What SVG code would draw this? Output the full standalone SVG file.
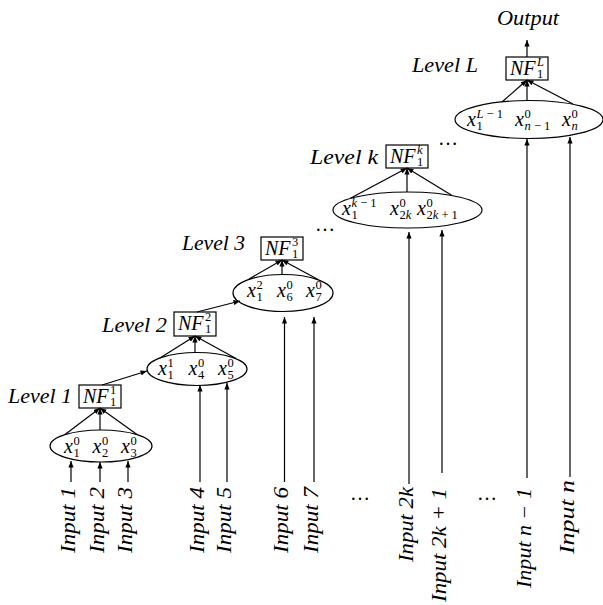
<svg xmlns="http://www.w3.org/2000/svg" width="603" height="605" viewBox="0 0 603 605">
<defs>
<marker id="ah" viewBox="0 0 10 8" refX="10" refY="4" markerWidth="6.5" markerHeight="5.2" markerUnits="userSpaceOnUse" orient="auto"><path d="M0,0 L10,4 L0,8 z" fill="#000"/></marker>
<style>
text{font-family:"Liberation Serif","Times New Roman",serif;fill:#000}
.t{font-style:italic;font-size:20px}
.s{font-style:normal;font-size:12.5px}
.si{font-style:italic;font-size:12.5px}
.d{font-style:normal;font-size:20px}
.bx{fill:#fff;stroke:#000;stroke-width:1.2}
.el{fill:none;stroke:#000;stroke-width:1.2}
.cn line{stroke:#000;stroke-width:1.2;marker-end:url(#ah)}
</style>
</defs>
<rect width="603" height="605" fill="#fff"/>

<g id="label-level1"><text class="t" x="8" y="403" textLength="64" lengthAdjust="spacingAndGlyphs">Level 1</text></g>
<g id="label-level2"><text class="t" x="102" y="332" textLength="65" lengthAdjust="spacingAndGlyphs">Level 2</text></g>
<g id="label-level3"><text class="t" x="182" y="250" textLength="63" lengthAdjust="spacingAndGlyphs">Level 3</text></g>
<g id="label-levelk"><text class="t" x="310" y="164" textLength="68" lengthAdjust="spacingAndGlyphs">Level k</text></g>
<g id="label-levelL"><text class="t" x="412" y="72" textLength="66" lengthAdjust="spacingAndGlyphs">Level L</text></g>
<g id="output"><text class="t" x="497" y="25" textLength="62" lengthAdjust="spacingAndGlyphs">Output</text></g>

<g id="nf1"><rect class="bx" x="79" y="385" width="42" height="23"/><text class="t" x="83" y="403">NF<tspan class="s" x="110" y="394">1</tspan><tspan class="s" x="110" y="406">1</tspan></text></g>
<g id="nf2"><rect class="bx" x="174" y="312" width="42" height="24"/><text class="t" x="178" y="330">NF<tspan class="s" x="205" y="321">2</tspan><tspan class="s" x="205" y="333">1</tspan></text></g>
<g id="nf3"><rect class="bx" x="261" y="237" width="42" height="23"/><text class="t" x="265" y="255">NF<tspan class="s" x="292" y="246">3</tspan><tspan class="s" x="292" y="258">1</tspan></text></g>
<g id="nfk"><rect class="bx" x="386" y="145" width="42" height="23"/><text class="t" x="390" y="163">NF<tspan class="si" x="417" y="154">k</tspan><tspan class="s" x="417" y="166">1</tspan></text></g>
<g id="nfL"><rect class="bx" x="506" y="57" width="42" height="23"/><text class="t" x="510" y="75">NF<tspan class="si" x="537" y="66">L</tspan><tspan class="s" x="537" y="78">1</tspan></text></g>

<g id="e1"><ellipse class="el" cx="101" cy="446" rx="51" ry="16"/>
<text class="t" x="64" y="453">x<tspan class="s" x="73.5" y="445">0</tspan><tspan class="s" x="73.5" y="456.5">1</tspan></text>
<text class="t" x="92.5" y="453">x<tspan class="s" x="102" y="445">0</tspan><tspan class="s" x="102" y="456.5">2</tspan></text>
<text class="t" x="121" y="453">x<tspan class="s" x="130.5" y="445">0</tspan><tspan class="s" x="130.5" y="456.5">3</tspan></text></g>
<g id="e2"><ellipse class="el" cx="197" cy="369" rx="50" ry="16.5"/>
<text class="t" x="158" y="375">x<tspan class="s" x="167.5" y="367">1</tspan><tspan class="s" x="167.5" y="378.5">1</tspan></text>
<text class="t" x="188.5" y="375">x<tspan class="s" x="198" y="367">0</tspan><tspan class="s" x="198" y="378.5">4</tspan></text>
<text class="t" x="218" y="375">x<tspan class="s" x="227.5" y="367">0</tspan><tspan class="s" x="227.5" y="378.5">5</tspan></text></g>
<g id="e3"><ellipse class="el" cx="283" cy="293" rx="50" ry="18.5"/>
<text class="t" x="247" y="297">x<tspan class="s" x="256.5" y="289">2</tspan><tspan class="s" x="256.5" y="300.5">1</tspan></text>
<text class="t" x="277" y="297">x<tspan class="s" x="286.5" y="289">0</tspan><tspan class="s" x="286.5" y="300.5">6</tspan></text>
<text class="t" x="306" y="297">x<tspan class="s" x="315.5" y="289">0</tspan><tspan class="s" x="315.5" y="300.5">7</tspan></text></g>
<g id="ek"><ellipse class="el" cx="407.5" cy="210" rx="74.5" ry="18"/>
<text class="t" x="342" y="215">x<tspan class="si" x="351.5" y="207">k</tspan><tspan class="s"> − 1</tspan><tspan class="s" x="351.5" y="218.5">1</tspan></text>
<text class="t" x="390" y="215">x<tspan class="s" x="399.5" y="207">0</tspan><tspan class="s" x="399.5" y="218.5">2</tspan><tspan class="si">k</tspan></text>
<text class="t" x="417" y="215">x<tspan class="s" x="426.5" y="207">0</tspan><tspan class="s" x="426.5" y="218.5">2</tspan><tspan class="si">k</tspan><tspan class="s"> + 1</tspan></text></g>
<g id="eL"><ellipse class="el" cx="529" cy="119.5" rx="74" ry="19"/>
<text class="t" x="467" y="126">x<tspan class="si" x="476.5" y="118">L</tspan><tspan class="s"> − 1</tspan><tspan class="s" x="476.5" y="129.5">1</tspan></text>
<text class="t" x="515" y="126">x<tspan class="s" x="524.5" y="118">0</tspan><tspan class="si" x="524.5" y="129.5">n</tspan><tspan class="s"> − 1</tspan></text>
<text class="t" x="562" y="126">x<tspan class="s" x="571.5" y="118">0</tspan><tspan class="si" x="571.5" y="129.5">n</tspan></text></g>

<g id="dots">
<text class="d" x="325" y="230.5" text-anchor="middle">…</text>
<text class="d" x="448" y="144.5" text-anchor="middle">…</text>
<text class="d" x="360" y="499.5" text-anchor="middle">…</text>
<text class="d" x="487" y="499.5" text-anchor="middle">…</text>
</g>

<g id="in1"><text class="t" transform="translate(74.5,487) rotate(-90)" text-anchor="end" textLength="66" lengthAdjust="spacingAndGlyphs">Input 1</text></g>
<g id="in2"><text class="t" transform="translate(103.5,487) rotate(-90)" text-anchor="end" textLength="66" lengthAdjust="spacingAndGlyphs">Input 2</text></g>
<g id="in3"><text class="t" transform="translate(131.5,487) rotate(-90)" text-anchor="end" textLength="66" lengthAdjust="spacingAndGlyphs">Input 3</text></g>
<g id="in4"><text class="t" transform="translate(203.5,487) rotate(-90)" text-anchor="end" textLength="66" lengthAdjust="spacingAndGlyphs">Input 4</text></g>
<g id="in5"><text class="t" transform="translate(230.5,487) rotate(-90)" text-anchor="end" textLength="66" lengthAdjust="spacingAndGlyphs">Input 5</text></g>
<g id="in6"><text class="t" transform="translate(288,487) rotate(-90)" text-anchor="end" textLength="66" lengthAdjust="spacingAndGlyphs">Input 6</text></g>
<g id="in7"><text class="t" transform="translate(317.5,487) rotate(-90)" text-anchor="end" textLength="66" lengthAdjust="spacingAndGlyphs">Input 7</text></g>
<g id="in2k"><text class="t" transform="translate(412.5,487) rotate(-90)" text-anchor="end" textLength="75" lengthAdjust="spacingAndGlyphs">Input 2k</text></g>
<g id="in2k1"><text class="t" transform="translate(445.5,488) rotate(-90)" text-anchor="end" textLength="114" lengthAdjust="spacingAndGlyphs">Input 2k + 1</text></g>
<g id="inn1"><text class="t" transform="translate(530.5,488) rotate(-90)" text-anchor="end" textLength="100" lengthAdjust="spacingAndGlyphs">Input n − 1</text></g>
<g id="inn"><text class="t" transform="translate(573.5,480) rotate(-90)" text-anchor="end" textLength="74" lengthAdjust="spacingAndGlyphs">Input n</text></g>

<g id="connectors" class="cn">
<line x1="65" y1="434.5" x2="100" y2="408"/>
<line x1="100" y1="430" x2="100" y2="408"/>
<line x1="137" y1="434.5" x2="100" y2="408"/>
<line x1="160" y1="358" x2="195" y2="336"/>
<line x1="195" y1="352.5" x2="195" y2="336"/>
<line x1="236" y1="358.5" x2="195" y2="336"/>
<line x1="249" y1="279" x2="282" y2="260"/>
<line x1="282" y1="274.5" x2="282" y2="260"/>
<line x1="318" y1="279.5" x2="282" y2="260"/>
<line x1="350" y1="198.5" x2="407" y2="168"/>
<line x1="407" y1="192" x2="407" y2="168"/>
<line x1="452" y1="195.5" x2="407" y2="168"/>
<line x1="502" y1="102" x2="527" y2="80"/>
<line x1="527" y1="100.5" x2="527" y2="80"/>
<line x1="573" y1="104" x2="527" y2="80"/>
<line x1="102" y1="385" x2="147" y2="371"/>
<line x1="197" y1="312" x2="240" y2="301"/>
<line x1="527" y1="57" x2="527" y2="40"/>
<line x1="71" y1="482" x2="71" y2="461"/>
<line x1="100" y1="482" x2="100" y2="462"/>
<line x1="128" y1="482" x2="128" y2="461"/>
<line x1="200" y1="482" x2="200" y2="385"/>
<line x1="227" y1="482" x2="227" y2="383"/>
<line x1="284.5" y1="482" x2="284.5" y2="317"/>
<line x1="314" y1="482" x2="314" y2="317"/>
<line x1="409" y1="484" x2="409" y2="232"/>
<line x1="442" y1="473" x2="442" y2="230"/>
<line x1="527" y1="478" x2="527" y2="139"/>
<line x1="570" y1="477" x2="570" y2="137"/>
</g>
</svg>
